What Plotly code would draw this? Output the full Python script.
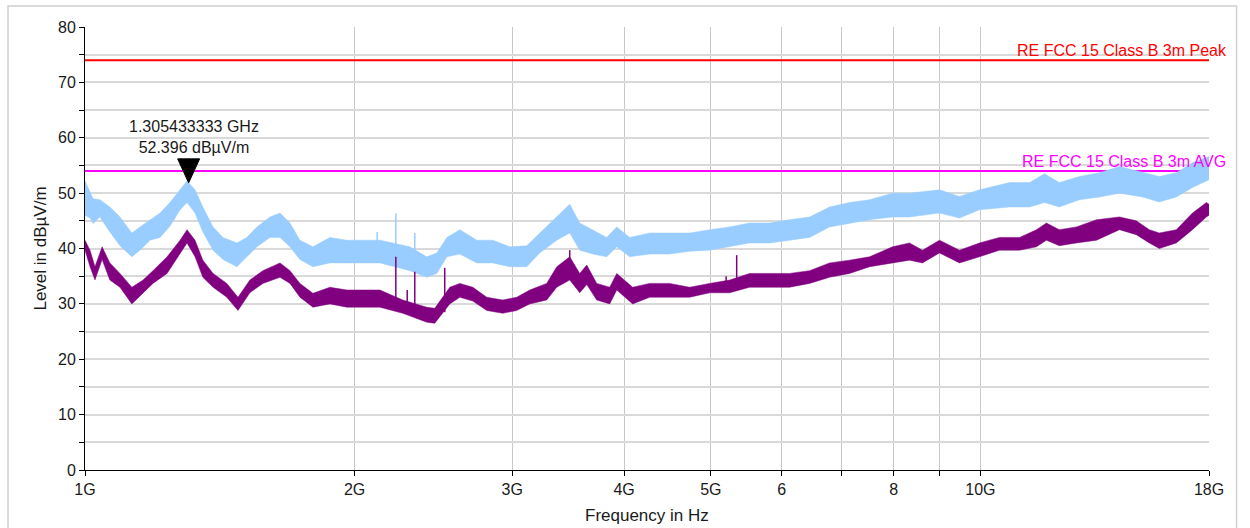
import math
import plotly.graph_objects as go

# ---------------- data ----------------
# Peak detector trace (light blue): frequency in GHz, lower / upper envelope in dBuV/m
peak_freq_ghz = [1.000, 1.013, 1.021, 1.039, 1.066, 1.094, 1.128, 1.152, 1.182, 1.213,
                 1.244, 1.277, 1.300, 1.327, 1.354, 1.390, 1.426, 1.478, 1.516, 1.556,
                 1.609, 1.651, 1.694, 1.738, 1.797, 1.877, 1.961, 2.027, 2.135, 2.306,
                 2.408, 2.471, 2.536, 2.622, 2.739, 2.854, 2.981, 3.114, 3.220, 3.364,
                 3.478, 3.569, 3.690, 3.825, 3.925, 4.058, 4.272, 4.497, 4.735, 4.985,
                 5.248, 5.524, 5.816, 6.122, 6.445, 6.785, 7.143, 7.520, 7.977, 8.333,
                 9.001, 9.476, 9.976, 10.78, 11.35, 11.79, 12.25, 12.90, 13.58, 14.30,
                 15.17, 15.84, 16.55, 17.25, 18.00]
peak_lo = [46.0, 45.5, 44.5, 45.7, 43.0, 40.5, 38.5, 39.7, 41.5, 42.0,
           44.0, 47.0, 48.3, 46.4, 43.0, 39.7, 38.0, 36.7, 38.5, 40.3,
           42.0, 42.0, 40.3, 38.0, 36.7, 37.4, 37.4, 37.4, 37.4, 36.0,
           34.8, 35.5, 38.5, 39.0, 37.4, 37.4, 36.7, 36.7, 39.2, 41.5,
           42.8, 39.7, 39.0, 38.5, 40.3, 38.5, 39.0, 39.0, 39.5, 39.7,
           40.3, 41.0, 41.0, 41.5, 42.0, 43.9, 44.6, 45.2, 45.7, 45.7,
           46.4, 45.5, 47.0, 47.5, 47.5, 48.3, 47.5, 48.8, 49.3, 50.0,
           49.3, 48.4, 49.3, 51.0, 52.4]
peak_hi = [52.2, 50.0, 49.0, 48.8, 47.5, 45.7, 42.8, 43.9, 45.2, 46.4,
           48.3, 50.6, 52.2, 50.6, 47.5, 43.9, 42.0, 41.0, 42.0, 43.9,
           45.7, 46.4, 44.6, 41.5, 40.3, 42.0, 41.5, 41.5, 41.5, 40.3,
           38.5, 39.2, 42.0, 43.4, 41.5, 41.5, 40.3, 40.5, 42.8, 45.7,
           48.0, 44.6, 43.4, 42.0, 43.9, 42.0, 42.8, 42.8, 42.8, 43.4,
           43.9, 44.6, 44.6, 45.2, 45.7, 47.5, 48.3, 48.8, 50.0, 50.0,
           50.6, 49.4, 50.6, 51.9, 51.9, 53.5, 51.9, 53.0, 53.7, 54.8,
           53.7, 53.0, 53.7, 55.5, 56.6]
peak_spike_ghz = [2.12, 2.224, 2.335]
peak_spike_base = [40.0, 40.5, 38.0]
peak_spike_top = [43.0, 46.3, 42.8]

# Average detector trace (purple)
avg_freq_ghz = [1.000, 1.013, 1.026, 1.045, 1.066, 1.094, 1.128, 1.161, 1.191, 1.235,
                1.277, 1.300, 1.327, 1.354, 1.390, 1.440, 1.482, 1.528, 1.580, 1.651,
                1.694, 1.738, 1.797, 1.877, 1.961, 2.027, 2.135, 2.264, 2.408, 2.458,
                2.555, 2.622, 2.711, 2.810, 2.928, 3.035, 3.138, 3.278, 3.364, 3.478,
                3.569, 3.634, 3.728, 3.855, 3.925, 4.089, 4.272, 4.497, 4.735, 4.985,
                5.248, 5.524, 5.816, 6.122, 6.445, 6.785, 7.143, 7.520, 7.977, 8.333,
                8.616, 9.001, 9.476, 9.976, 10.50, 11.06, 11.55, 11.85, 12.25, 12.80,
                13.48, 14.30, 14.93, 15.44, 15.84, 16.55, 17.25, 17.88, 18.00]
avg_lo = [39.7, 36.7, 34.3, 38.0, 34.3, 33.0, 30.0, 32.0, 33.7, 35.5,
          39.0, 41.0, 38.5, 34.8, 33.0, 31.2, 28.8, 32.0, 33.7, 34.8,
          33.7, 31.2, 29.4, 30.0, 29.4, 29.4, 29.4, 28.3, 26.7, 26.5,
          30.0, 31.2, 30.5, 28.8, 28.3, 28.8, 30.0, 30.7, 33.0, 34.3,
          32.0, 33.5, 30.7, 30.0, 32.5, 30.0, 31.2, 31.2, 31.2, 32.0,
          32.0, 33.0, 33.0, 33.0, 33.7, 34.8, 35.5, 36.7, 37.4, 37.9,
          37.4, 39.2, 37.4, 38.5, 39.7, 39.7, 40.3, 41.5, 40.5, 41.0,
          41.5, 43.4, 42.5, 41.0, 40.0, 41.0, 43.4, 45.7, 46.0]
avg_hi = [41.5, 39.7, 36.7, 40.3, 37.4, 35.5, 33.0, 34.3, 36.0, 38.5,
          41.5, 43.4, 41.5, 37.9, 35.5, 33.7, 31.2, 34.3, 36.0, 37.4,
          36.0, 33.7, 31.9, 33.0, 32.5, 32.5, 32.5, 30.7, 29.4, 29.2,
          33.0, 33.7, 33.0, 31.2, 30.7, 31.2, 32.5, 33.7, 36.7, 38.5,
          35.5, 37.0, 33.7, 33.0, 35.5, 33.0, 33.7, 33.7, 33.0, 33.7,
          34.3, 35.5, 35.5, 35.5, 36.0, 37.4, 37.9, 38.5, 40.3, 41.0,
          39.7, 41.5, 39.7, 41.0, 42.0, 42.0, 43.4, 44.6, 43.4, 43.9,
          45.2, 45.7, 45.0, 43.4, 42.8, 43.4, 46.4, 48.3, 48.0]
avg_spike_ghz = [2.224, 2.29, 2.335, 2.522, 3.478, 5.20, 5.343]
avg_spike_base = [30.0, 29.5, 29.0, 28.5, 36.0, 32.5, 33.0]
avg_spike_top = [38.5, 32.5, 35.8, 36.5, 39.7, 35.0, 38.8]

# Limit lines
limit_freq_ghz = [1.0, 18.0]
limit_peak = 74.0
limit_avg = 54.0
limit_peak_name = "RE FCC 15 Class B 3m Peak"
limit_avg_name = "RE FCC 15 Class B 3m AVG"

# Marker
marker_freq_hz = 1.305433333e9
marker_level = 52.396
marker_text = "1.305433333 GHz<br>52.396 dBµV/m"

# Axis ticks / titles
x_tick_ghz = [1, 2, 3, 4, 5, 6, 7, 8, 9, 10, 18]
x_tick_text = ["1G", "2G", "3G", "4G", "5G", "6", "", "8", "", "10G", "18G"]
y_tick_vals = list(range(0, 81, 5))
y_tick_text = [str(v) if v % 10 == 0 else "" for v in y_tick_vals]
x_title = "Frequency in Hz"
y_title = "Level in dBµV/m"

# ---------------- figure ----------------
FONT = "Liberation Sans, Arial, sans-serif"
TXT = "#1a1a1a"
PEAK_COLOR = "#99CCFF"
AVG_COLOR = "#800080"


def band(freq_ghz, lo, hi):
    fx = [f * 1e9 for f in freq_ghz]
    return fx + fx[::-1], list(hi) + list(lo)[::-1]


def spikes(freq_ghz, base, top):
    xs, ys = [], []
    for f, b, t in zip(freq_ghz, base, top):
        xs += [f * 1e9, f * 1e9, None]
        ys += [b, t, None]
    return xs, ys


fig = go.Figure()

lx = [f * 1e9 for f in limit_freq_ghz]
fig.add_trace(go.Scatter(x=lx, y=[limit_peak] * len(lx), mode="lines",
                         line=dict(color="#FF0000", width=2), hoverinfo="skip"))
fig.add_trace(go.Scatter(x=lx, y=[limit_avg] * len(lx), mode="lines",
                         line=dict(color="#FF00FF", width=2), hoverinfo="skip"))

bx, by = band(peak_freq_ghz, peak_lo, peak_hi)
fig.add_trace(go.Scatter(x=bx, y=by, mode="lines", fill="toself", fillcolor=PEAK_COLOR,
                         line=dict(color=PEAK_COLOR, width=0.5), hoverinfo="skip"))
sx, sy = spikes(peak_spike_ghz, peak_spike_base, peak_spike_top)
fig.add_trace(go.Scatter(x=sx, y=sy, mode="lines", line=dict(color=PEAK_COLOR, width=1.5),
                         hoverinfo="skip"))

bx, by = band(avg_freq_ghz, avg_lo, avg_hi)
fig.add_trace(go.Scatter(x=bx, y=by, mode="lines", fill="toself", fillcolor=AVG_COLOR,
                         line=dict(color=AVG_COLOR, width=0.5), hoverinfo="skip"))
sx, sy = spikes(avg_spike_ghz, avg_spike_base, avg_spike_top)
fig.add_trace(go.Scatter(x=sx, y=sy, mode="lines", line=dict(color=AVG_COLOR, width=1.5),
                         hoverinfo="skip"))

# marker triangle (pixel-sized shape anchored at marker position)
fig.add_shape(type="path", xref="x", yref="y", xsizemode="pixel", ysizemode="pixel",
              xanchor=marker_freq_hz, yanchor=marker_level,
              path="M -11,21 L 11,21 L 0,-3 Z", fillcolor="black", line=dict(color="black", width=1),
              layer="above")

fig.add_annotation(x=math.log10(marker_freq_hz), y=marker_level, xref="x", yref="y",
                   text=marker_text, showarrow=False, yanchor="bottom", xanchor="center",
                   xshift=5, yshift=22, font=dict(family=FONT, size=16, color=TXT))

fig.add_annotation(x=1.0178, y=limit_peak, xref="paper", yref="y", text=limit_peak_name,
                   showarrow=False, xanchor="right", yanchor="bottom", yshift=-1,
                   font=dict(family=FONT, size=16, color="#FF0000"))
fig.add_annotation(x=1.0170, y=limit_avg, xref="paper", yref="y", text=limit_avg_name,
                   showarrow=False, xanchor="right", yanchor="bottom", yshift=-1,
                   font=dict(family=FONT, size=16, color="#FF00FF"))

# axis titles
fig.add_annotation(x=0.5, y=-0.102, xref="paper", yref="paper", text=x_title, showarrow=False,
                   xanchor="center", yanchor="middle", font=dict(family=FONT, size=17, color=TXT))
fig.add_annotation(x=-0.040, y=0.5, xref="paper", yref="paper", text=y_title, showarrow=False,
                   textangle=-90, xanchor="center", yanchor="middle",
                   font=dict(family=FONT, size=17, color=TXT))

# outer frame
fig.add_shape(type="rect", xref="paper", yref="paper", x0=-0.0685, x1=1.0245, y0=-0.3, y1=1.0475,
              line=dict(color="#D0D0D0", width=1.5), layer="below")

fig.update_layout(
    width=1250, height=528,
    margin=dict(l=85, r=41, t=27, b=58, autoexpand=False),
    paper_bgcolor="white", plot_bgcolor="white",
    showlegend=False,
    font=dict(family=FONT, size=16, color=TXT),
)

fig.update_xaxes(
    type="log",
    range=[9, math.log10(18e9)],
    tickvals=[t * 1e9 for t in x_tick_ghz], ticktext=x_tick_text,
    showgrid=True, gridcolor="#C8C8C8", gridwidth=1,
    showline=True, linecolor="black", linewidth=1,
    ticks="outside", ticklen=5, tickcolor="black",
    tickfont=dict(family=FONT, size=16, color=TXT),
    zeroline=False, mirror=False, automargin=False,
)
fig.update_yaxes(
    range=[0, 80],
    tickvals=y_tick_vals, ticktext=y_tick_text,
    showgrid=True, gridcolor="#D9D9D9", gridwidth=1.5,
    showline=True, linecolor="black", linewidth=1,
    ticks="outside", ticklen=5, tickcolor="black",
    tickfont=dict(family=FONT, size=16, color=TXT),
    zeroline=False, automargin=False,
)

fig.write_html("out.html")
